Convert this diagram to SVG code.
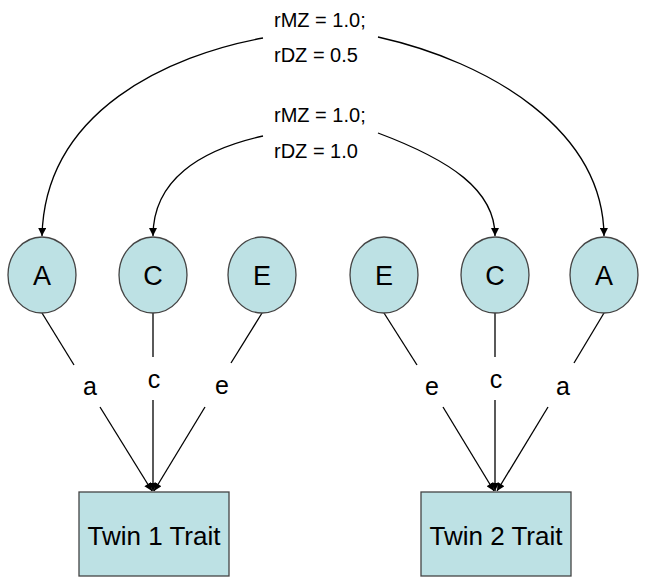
<svg xmlns="http://www.w3.org/2000/svg" width="647" height="586" viewBox="0 0 647 586">
<style>
.node{fill:#BDE1E4;stroke:#444;stroke-width:1.3}
.t{font-family:"Liberation Sans",Arial,sans-serif;fill:#000;text-anchor:middle}
.nt{font-size:27px}
.bt{font-size:26px}
.lb{font-size:25px}
.cor{font-family:"Liberation Sans",Arial,sans-serif;font-size:20px;fill:#000}
.ln{stroke:#000;stroke-width:1.3;fill:none}
</style>
<defs>
<marker id="ah" viewBox="0 0 10 10" refX="10" refY="5" markerWidth="9" markerHeight="8" markerUnits="userSpaceOnUse" orient="auto">
<path d="M0,0 L10,5 L0,10 z" fill="#000"/>
</marker>
</defs>
<rect width="647" height="586" fill="#fff"/>
<g id="connectors">
<path class="ln" d="M263,38 C170,55 45,110 42,236" marker-end="url(#ah)"/>
<path class="ln" d="M378,37 C490,62 603,130 604,236" marker-end="url(#ah)"/>
<path class="ln" d="M263,136 C200,150 153,180 153,236" marker-end="url(#ah)"/>
<path class="ln" d="M378,133 C450,160 495,190 495,236" marker-end="url(#ah)"/>
<line class="ln" x1="42" y1="313" x2="74" y2="365"/>
<line class="ln" x1="100" y1="407" x2="152" y2="491" marker-end="url(#ah)"/>
<line class="ln" x1="153" y1="313" x2="153" y2="357"/>
<line class="ln" x1="153" y1="400" x2="153" y2="491" marker-end="url(#ah)"/>
<line class="ln" x1="262" y1="313" x2="231" y2="363"/>
<line class="ln" x1="205" y1="407" x2="154" y2="491" marker-end="url(#ah)"/>
<line class="ln" x1="384" y1="313" x2="417" y2="365"/>
<line class="ln" x1="443" y1="407" x2="494" y2="491" marker-end="url(#ah)"/>
<line class="ln" x1="495" y1="313" x2="495" y2="357"/>
<line class="ln" x1="495" y1="400" x2="495" y2="491" marker-end="url(#ah)"/>
<line class="ln" x1="604" y1="313" x2="574" y2="363"/>
<line class="ln" x1="548" y1="407" x2="497" y2="491" marker-end="url(#ah)"/>
<text class="t lb" x="90" y="395">a</text>
<text class="t lb" x="154" y="388">c</text>
<text class="t lb" x="222" y="394">e</text>
<text class="t lb" x="432" y="395">e</text>
<text class="t lb" x="496" y="388">c</text>
<text class="t lb" x="563" y="395">a</text>
<text class="cor" x="274" y="27">rMZ = 1.0;</text>
<text class="cor" x="274" y="62">rDZ = 0.5</text>
<text class="cor" x="274" y="122">rMZ = 1.0;</text>
<text class="cor" x="274" y="158">rDZ = 1.0</text>
</g>
<g id="A1"><ellipse class="node" cx="42" cy="275" rx="34" ry="38"/><text class="t nt" x="42" y="285">A</text></g>
<g id="C1"><ellipse class="node" cx="153" cy="275" rx="34" ry="38"/><text class="t nt" x="153" y="285">C</text></g>
<g id="E1"><ellipse class="node" cx="262" cy="275" rx="34" ry="38"/><text class="t nt" x="262" y="285">E</text></g>
<g id="E2"><ellipse class="node" cx="384" cy="275" rx="34" ry="38"/><text class="t nt" x="384" y="285">E</text></g>
<g id="C2"><ellipse class="node" cx="495" cy="275" rx="34" ry="38"/><text class="t nt" x="495" y="285">C</text></g>
<g id="A2"><ellipse class="node" cx="604" cy="275" rx="34" ry="38"/><text class="t nt" x="604" y="285">A</text></g>
<g id="T1"><rect class="node" x="79" y="492" width="150" height="84"/><text class="t bt" x="154" y="545">Twin 1 Trait</text></g>
<g id="T2"><rect class="node" x="421" y="492" width="150" height="84"/><text class="t bt" x="496" y="545">Twin 2 Trait</text></g>
</svg>
